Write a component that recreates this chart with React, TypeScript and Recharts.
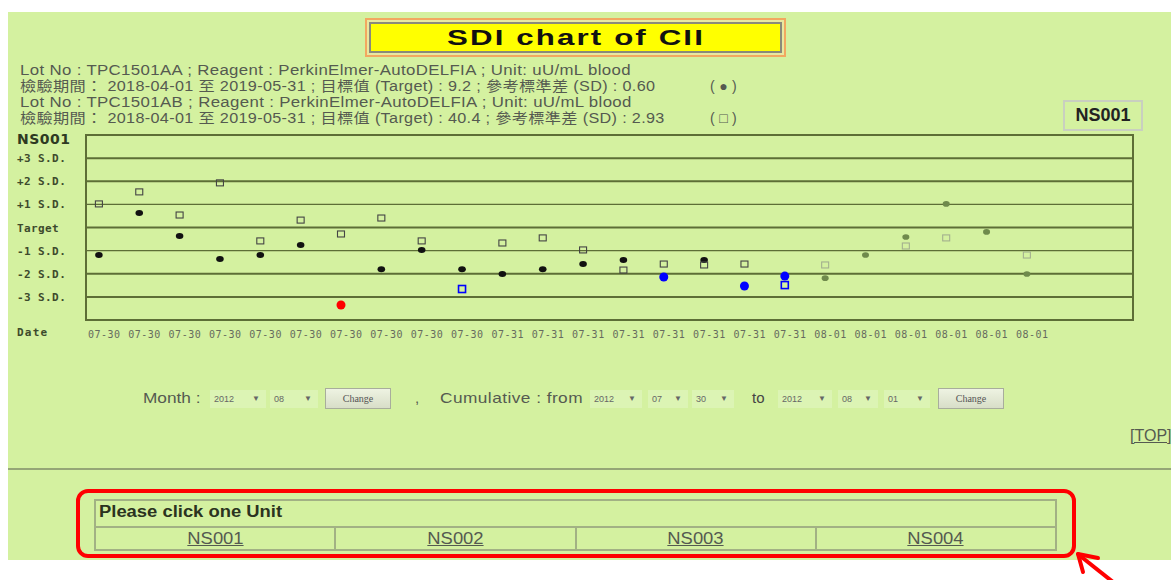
import { ScatterChart, Scatter, XAxis, YAxis, ReferenceLine, ReferenceArea } from 'recharts';

// x categories (one per QC run)
const dateLabels = [
  '07-30', '07-30', '07-30', '07-30', '07-30', '07-30', '07-30', '07-30', '07-30', '07-30',
  '07-31', '07-31', '07-31', '07-31', '07-31', '07-31', '07-31', '07-31',
  '08-01', '08-01', '08-01', '08-01', '08-01', '08-01',
];

// SDI values, lot TPC1501AA (filled dots)
const lotAA = [
  -1.19, 0.63, -0.37, -1.36, -1.19, -0.76, -3.35, -1.8, -0.97, -1.8,
  -2.01, -1.8, -1.58, -1.41, -2.14, -1.41, -2.53, -2.1,
  -2.19, -1.19, -0.41, 1.02, -0.19, -2.01,
];
const lotAAStatus = [
  'ok', 'ok', 'ok', 'ok', 'ok', 'ok', 'reject', 'ok', 'ok', 'ok',
  'ok', 'ok', 'ok', 'ok', 'warn', 'ok', 'warn', 'warn',
  'pending', 'pending', 'pending', 'pending', 'pending', 'pending',
];

// SDI values, lot TPC1501AB (open squares)
const lotAB = [
  1.02, 1.54, 0.54, 1.93, -0.58, 0.32, -0.28, 0.41, -0.58, -2.66,
  -0.67, -0.45, -0.97, -1.84, -1.58, -1.62, -1.58, -2.49,
  -1.62, null, -0.8, -0.45, null, -1.19,
];
const lotABStatus = [
  'ok', 'ok', 'ok', 'ok', 'ok', 'ok', 'ok', 'ok', 'ok', 'warn',
  'ok', 'ok', 'ok', 'ok', 'ok', 'ok', 'ok', 'warn',
  'pending', 'pending', 'pending', 'pending', 'pending', 'pending',
];

const sdTicks = [3, 2, 1, 0, -1, -2, -3];
const sdTickLabels = ['+3 S.D.', '+2 S.D.', '+1 S.D.', 'Target', '-1 S.D.', '-2 S.D.', '-3 S.D.'];

const units = ['NS001', 'NS002', 'NS003', 'NS004'];

const BG = '#d4f1a0';
const TEXT = '#555a50';
const FRAME = '#5d6e36';

const aaData = lotAA.map((y, i) => ({ x: i, y, status: lotAAStatus[i] }));
const abData = lotAB
  .map((y, i) => ({ x: i, y, status: lotABStatus[i] }))
  .filter((d) => d.y !== null);

const renderDot = (props: any) => {
  const { cx, cy, payload } = props;
  if (payload.status === 'reject') return <circle cx={cx} cy={cy} r={4.5} fill="#ff0000" />;
  if (payload.status === 'warn') return <circle cx={cx} cy={cy} r={4.5} fill="#0000ff" />;
  if (payload.status === 'pending') return <ellipse cx={cx} cy={cy} rx={3.5} ry={2.8} fill="#6f8a4c" />;
  return <ellipse cx={cx} cy={cy} rx={3.8} ry={3} fill="#111" />;
};

const renderSquare = (props: any) => {
  const { cx, cy, payload } = props;
  if (payload.status === 'warn')
    return <rect x={cx - 3.5} y={cy - 3.5} width={7} height={7} fill="none" stroke="#0000ff" strokeWidth={1.6} />;
  const color = payload.status === 'pending' ? '#a3b08e' : '#444';
  return <rect x={cx - 3.5} y={cy - 3} width={7} height={6} fill="none" stroke={color} strokeWidth={1.1} />;
};

const SdTick = (props: any) => {
  const { y, payload } = props;
  const idx = sdTicks.indexOf(payload.value);
  return (
    <text x={17} y={y + 4} fontSize={11} letterSpacing={0.4} fontWeight="bold" fontFamily="DejaVu Sans Mono" fill="#3d4a2c">
      {sdTickLabels[idx]}
    </text>
  );
};

const DateTick = (props: any) => {
  const { x, payload } = props;
  return (
    <text x={x - 11} y={213} fontSize={10} letterSpacing={0.5} fontFamily="DejaVu Sans Mono" fill="#666b5e">
      {dateLabels[payload.value]}
    </text>
  );
};

// the screenshot is stretched sideways, so text is widened to match
const Wide = ({ s, children, underline }: { s: number; children: any; underline?: boolean }) => (
  <span style={{ display: 'inline-block', transform: `scaleX(${s})`, transformOrigin: 'left center', whiteSpace: 'nowrap', textDecoration: underline ? 'underline' : 'none' }}>{children}</span>
);

const SelectBox = ({ left, width, value }: { left: number; width: number; value: string }) => (
  <div style={{ position: 'absolute', left, top: 390, width, height: 18, background: '#dcf4b4', fontSize: 9, color: '#666', lineHeight: '18px', paddingLeft: 4, boxSizing: 'border-box' }}>
    {value}
    <span style={{ position: 'absolute', right: 6, fontSize: 8 }}>▼</span>
  </div>
);

const ChangeButton = ({ left }: { left: number }) => (
  <div style={{ position: 'absolute', left, top: 388, width: 66, height: 21, border: '1px solid #a8ad9c', background: 'linear-gradient(#eef3e2, #d8dec8)', boxSizing: 'border-box', fontSize: 10, color: '#555', textAlign: 'center', lineHeight: '19px', fontFamily: 'Liberation Serif' }}>
    Change
  </div>
);

export default function App() {
  const lineStyle = { position: 'absolute' as const, left: 20, fontSize: 14, lineHeight: '16px', height: 16, color: TEXT, whiteSpace: 'nowrap' as const, letterSpacing: 0.3, fontFamily: "'Liberation Sans', 'Noto Sans CJK TC'" };
  return (
    <div style={{ position: 'absolute', left: 0, top: 0, width: 1171, height: 580, background: '#fff', overflow: 'hidden', fontFamily: "'Liberation Sans', 'Noto Sans CJK TC', sans-serif" }}>
      <div style={{ position: 'absolute', left: 8, top: 12, width: 1163, height: 548, background: BG }} />

      {/* title */}
      <div style={{ position: 'absolute', left: 365, top: 18, width: 421, height: 39, border: '2px solid #f2a860', boxSizing: 'border-box', background: '#e8e8a0', padding: 2 }}>
        <div style={{ position: 'relative', width: '100%', height: '100%', border: '2px solid #8a8a7a', boxSizing: 'border-box', background: '#ffff00', fontWeight: 'bold', fontSize: 22, lineHeight: '27px', letterSpacing: 1.5, color: '#111' }}>
          <div style={{ position: 'absolute', left: 76, top: 0 }}>
            <Wide s={1.42}>SDI chart of CII</Wide>
          </div>
        </div>
      </div>

      <div style={{ ...lineStyle, top: 62 }}><Wide s={1.2}>Lot No : TPC1501AA ; Reagent : PerkinElmer-AutoDELFIA ; Unit: uU/mL blood</Wide></div>
      <div style={{ ...lineStyle, top: 78 }}><Wide s={1.155}>檢驗期間： 2018-04-01 至 2019-05-31 ; 目標值 (Target) : 9.2 ; 參考標準差 (SD) : 0.60</Wide></div>
      <div style={{ ...lineStyle, left: 710, top: 78 }}>( ● )</div>
      <div style={{ ...lineStyle, top: 94 }}><Wide s={1.2}>Lot No : TPC1501AB ; Reagent : PerkinElmer-AutoDELFIA ; Unit: uU/mL blood</Wide></div>
      <div style={{ ...lineStyle, top: 110 }}><Wide s={1.155}>檢驗期間： 2018-04-01 至 2019-05-31 ; 目標值 (Target) : 40.4 ; 參考標準差 (SD) : 2.93</Wide></div>
      <div style={{ ...lineStyle, left: 710, top: 110 }}>( □ )</div>

      <div style={{ position: 'absolute', left: 1063, top: 100, width: 80, height: 31, border: '2px solid #c9cfc0', boxSizing: 'border-box', textAlign: 'center', fontWeight: 'bold', fontSize: 18, lineHeight: '27px', color: '#222' }}>
        NS001
      </div>

      <div style={{ position: 'absolute', left: 17, top: 131, fontSize: 14, letterSpacing: 0.5, fontWeight: 'bold', color: '#2e3a22', fontFamily: 'DejaVu Sans' }}>NS001</div>
      <div style={{ position: 'absolute', left: 17, top: 326, fontSize: 11, letterSpacing: 1.2, fontWeight: 'bold', color: '#3d4a2c', fontFamily: 'DejaVu Sans Mono' }}>Date</div>

      <div style={{ position: 'absolute', left: 0, top: 125 }}>
        <ScatterChart width={1171} height={230} margin={{ top: 10, right: 38, bottom: 5, left: 0 }}>
          <XAxis type="number" dataKey="x" domain={[-0.32, 25.63]} ticks={dateLabels.map((_, i) => i)} tick={<DateTick />} interval={0} axisLine={false} tickLine={false} height={30} allowDataOverflow />
          <YAxis type="number" dataKey="y" domain={[-4, 4]} ticks={sdTicks} tick={<SdTick />} width={86} axisLine={false} tickLine={false} allowDataOverflow />
          <ReferenceArea x1={-0.32} x2={25.63} y1={-4} y2={4} fill="none" fillOpacity={0} stroke={FRAME} strokeWidth={2} />
          {sdTicks.map((t) => (
            <ReferenceLine key={t} y={t} stroke={FRAME} strokeWidth={t === 1 || t === -1 ? 1.2 : 2} />
          ))}
          <Scatter data={aaData} shape={renderDot} isAnimationActive={false} />
          <Scatter data={abData} shape={renderSquare} isAnimationActive={false} />
        </ScatterChart>
      </div>

      {/* controls */}
      <div style={{ position: 'absolute', left: 143, top: 389, fontSize: 15, color: TEXT }}><Wide s={1.15}>Month :</Wide></div>
      <SelectBox left={210} width={56} value="2012" />
      <SelectBox left={270} width={48} value="08" />
      <ChangeButton left={325} />
      <div style={{ position: 'absolute', left: 415, top: 389, fontSize: 15, color: TEXT }}>,</div>
      <div style={{ position: 'absolute', left: 440, top: 389, fontSize: 15, color: TEXT, letterSpacing: 0.4 }}><Wide s={1.15}>Cumulative : from</Wide></div>
      <SelectBox left={590} width={52} value="2012" />
      <SelectBox left={648} width={40} value="07" />
      <SelectBox left={692} width={42} value="30" />
      <div style={{ position: 'absolute', left: 752, top: 389, fontSize: 15, color: '#444' }}>to</div>
      <SelectBox left={778} width={54} value="2012" />
      <SelectBox left={838} width={40} value="08" />
      <SelectBox left={884} width={46} value="01" />
      <ChangeButton left={938} />

      <div style={{ position: 'absolute', left: 1130, top: 427, fontSize: 16, color: TEXT, textDecoration: 'underline', whiteSpace: 'nowrap' }}>[TOP]</div>

      <div style={{ position: 'absolute', left: 8, top: 468, width: 1163, height: 2, background: '#95a676' }} />

      {/* unit table */}
      <div style={{ position: 'absolute', left: 94, top: 499, width: 963, height: 52, border: '2px solid #a2b184', boxSizing: 'border-box' }}>
        <div style={{ height: 25, borderBottom: '2px solid #a2b184', fontWeight: 'bold', fontSize: 16, color: '#2b3320', paddingLeft: 3, lineHeight: '21px' }}>
          <Wide s={1.15}>Please click one Unit</Wide>
        </div>
        <div style={{ display: 'flex', height: 23 }}>
          {units.map((u, i) => (
            <div key={u} style={{ flex: 1, borderLeft: i === 0 ? 'none' : '2px solid #a2b184', textAlign: 'center', fontSize: 16, color: TEXT, lineHeight: '22px' }}>
              <span style={{ display: 'inline-block', transform: 'scaleX(1.15)', textDecoration: 'underline' }}>{u}</span>
            </div>
          ))}
        </div>
      </div>
      <div style={{ position: 'absolute', left: 76, top: 489, width: 1000, height: 69, border: '4px solid #ff0000', borderRadius: 12, boxSizing: 'border-box' }} />

      <svg style={{ position: 'absolute', left: 0, top: 0 }} width={1171} height={580}>
        <line x1={1079} y1={555} x2={1113} y2={582} stroke="#ff0000" strokeWidth={4} />
        <line x1={1078} y1={554} x2={1098} y2={558} stroke="#ff0000" strokeWidth={4} strokeLinecap="round" />
        <line x1={1078} y1={554} x2={1083} y2={572} stroke="#ff0000" strokeWidth={4} strokeLinecap="round" />
      </svg>
    </div>
  );
}
